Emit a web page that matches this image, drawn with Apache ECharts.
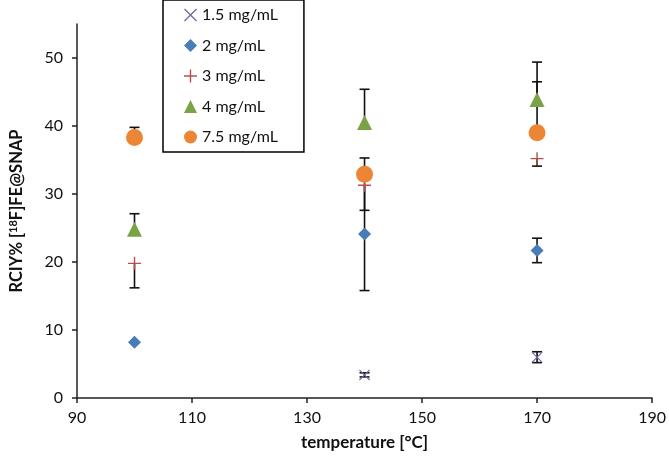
<!DOCTYPE html>
<html>
<head>
<meta charset="utf-8">
<script src="https://cdn.jsdelivr.net/npm/echarts@6/dist/echarts.min.js"></script>
<style>html,body{margin:0;padding:0;background:#fff}#c{width:669px;height:457px}</style>
</head>
<body>
<div id="c"></div>
<script>
// ---- data ----
var temps = [100, 140, 170];
var seriesNames = ['1.5 mg/mL', '2 mg/mL', '3 mg/mL', '4 mg/mL', '7.5 mg/mL'];
var v15 = [null, 3.4, 6.0];
var v2  = [8.2, 24.1, 21.7];
var v3  = [19.8, 31.3, 35.2];
var v4  = [24.8, 40.5, 43.9];
var v75 = [38.3, 32.9, 39.0];
// error bars: minus / plus
var e15Minus = [0, 0.3, 0.8],  e15Plus = [0, 0.3, 0.8];
var e2Minus  = [0, 8.3, 1.8],   e2Plus  = [0, 8.3, 1.8];
var e3Minus  = [3.6, 3.7, 1.1], e3Plus  = [0, 0, 0];
var e4Minus  = [0, 0, 0],       e4Plus  = [2.3, 4.9, 5.5];
var e75Minus = [0, 0, 0],       e75Plus = [1.5, 2.4, 7.5];
var xTicks = [90, 110, 130, 150, 170, 190];
var yTicks = [0, 10, 20, 30, 40, 50];

var colors = ['#76679e', '#4a7cba', '#b5524e', '#7aa346', '#ec8535'];
var symbols = [
  'path://M0.7,0L5,4.3L9.3,0L10,0.7L5.7,5L10,9.3L9.3,10L5,5.7L0.7,10L0,9.3L4.3,5L0,0.7Z',
  'diamond',
  'path://M4.45,0H5.55V4.45H10V5.55H5.55V10H4.45V5.55H0V4.45H4.45Z',
  'triangle',
  'circle'
];
var sizes = [11, 13, 13, 15, 17];
var values = [v15, v2, v3, v4, v75];
var minus = [e15Minus, e2Minus, e3Minus, e4Minus, e75Minus];
var plus = [e15Plus, e2Plus, e3Plus, e4Plus, e75Plus];

var FONT = 'Lato';

function errSeries(k) {
  var data = [];
  temps.forEach(function (t, i) {
    if (values[k][i] == null) return;
    if (minus[k][i] === 0 && plus[k][i] === 0) return;
    data.push([t, values[k][i], values[k][i] - minus[k][i], values[k][i] + plus[k][i]]);
  });
  return {
    type: 'custom',
    silent: true,
    z: 1,
    data: data,
    encode: {x: 0, y: [1, 2, 3]},
    renderItem: function (params, api) {
      var x = api.value(0), y = api.value(1), lo = api.value(2), hi = api.value(3);
      var pLo = api.coord([x, lo]), pHi = api.coord([x, hi]);
      var st = {stroke: '#111', lineWidth: 1.6};
      var ch = [];
      ch.push({type: 'line', shape: {x1: pLo[0], y1: pLo[1], x2: pHi[0], y2: pHi[1]}, style: st});
      if (lo < y) ch.push({type: 'line', shape: {x1: pLo[0] - 5, y1: pLo[1], x2: pLo[0] + 5, y2: pLo[1]}, style: st});
      if (hi > y) ch.push({type: 'line', shape: {x1: pHi[0] - 5, y1: pHi[1], x2: pHi[0] + 5, y2: pHi[1]}, style: st});
      return {type: 'group', children: ch};
    }
  };
}

var series = [];
for (var k = 0; k < 5; k++) series.push(errSeries(k));
for (var k2 = 0; k2 < 5; k2++) {
  (function (k) {
    var d = [];
    temps.forEach(function (t, i) { if (values[k][i] != null) d.push([t, values[k][i]]); });
    series.push({
      name: seriesNames[k],
      type: 'scatter',
      z: 3,
      symbol: symbols[k],
      symbolSize: sizes[k],
      itemStyle: {color: colors[k], opacity: 1},
      data: d
    });
  })(k2);
}

var chart = echarts.init(document.getElementById('c'));
chart.setOption({
  animation: false,
  backgroundColor: '#fff',
  grid: {left: 73, right: 14, top: 24, bottom: 59},
  legend: {
    orient: 'vertical',
    left: 163, top: 0,
    data: seriesNames.map(function (n, k) { return {name: n, icon: symbols[k]}; }),
    itemWidth: 13, itemHeight: 13, itemGap: 14.5,
    padding: [7, 26, 7, 21],
    borderColor: '#000', borderWidth: 1.5,
    backgroundColor: '#fff',
    textStyle: {fontFamily: FONT, fontSize: 16, color: '#111'}
  },
  xAxis: {
    type: 'value', min: 90, max: 190, interval: 20,
    name: 'temperature [°C]', nameLocation: 'middle', nameGap: 36,
    nameTextStyle: {fontFamily: FONT, fontSize: 17, fontWeight: 'bold', color: '#111'},
    axisLine: {lineStyle: {color: '#222', width: 1.5}},
    axisTick: {show: true, length: 5, lineStyle: {color: '#222', width: 1.5}, customValues: xTicks},
    axisLabel: {fontFamily: FONT, fontSize: 16, color: '#111', margin: 12, customValues: xTicks},
    splitLine: {show: false}
  },
  yAxis: {
    type: 'value', min: 0, max: 55, interval: 10,
    name: '{a|RCIY% [}{s|18}{a|F]FE@SNAP}', nameLocation: 'middle', nameGap: 52,
    nameTextStyle: {
      rich: {
        a: {fontFamily: FONT, fontSize: 16.5, fontWeight: 'bold', color: '#111'},
        s: {fontFamily: FONT, fontSize: 11, fontWeight: 'bold', color: '#111', verticalAlign: 'top', lineHeight: 10, padding: [0, 0, 6, 0]}
      }
    },
    axisLine: {show: true, lineStyle: {color: '#222', width: 1.5}},
    axisTick: {show: true, length: 5, lineStyle: {color: '#222', width: 1.5}, customValues: yTicks},
    axisLabel: {fontFamily: FONT, fontSize: 16, color: '#111', margin: 14, customValues: yTicks},
    splitLine: {show: false}
  },
  series: series
});
</script>
</body>
</html>
